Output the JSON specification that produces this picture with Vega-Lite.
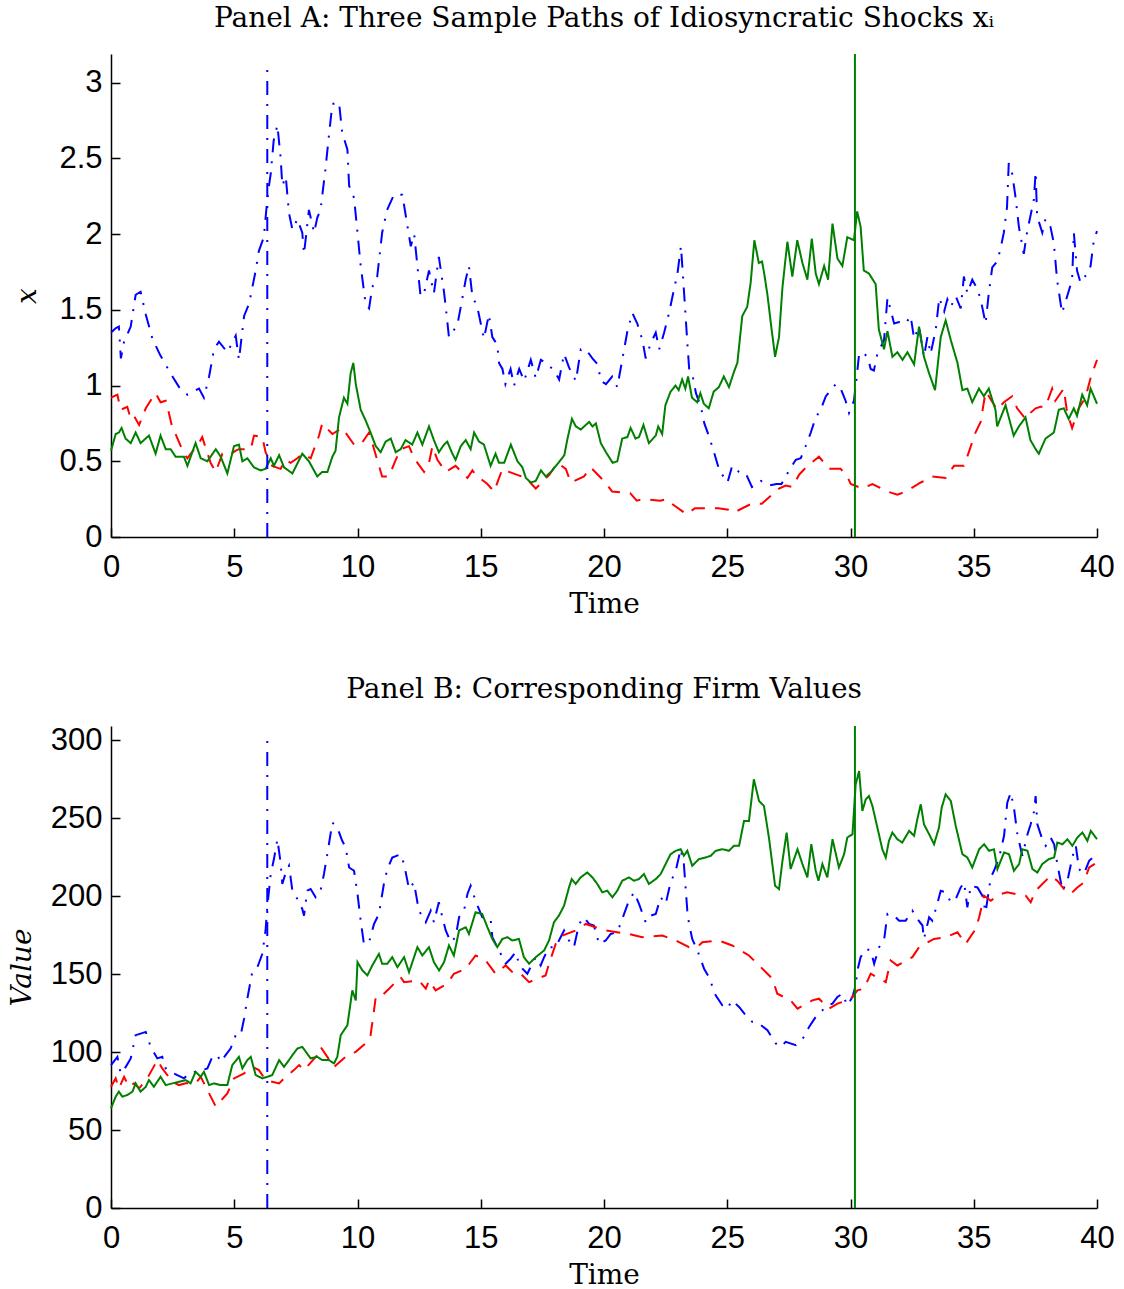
{
"$schema": "https://vega.github.io/schema/vega-lite/v6.json",
"background": "white",
"padding": {"left": 8, "top": 5, "right": 20, "bottom": 5},
"spacing": 58,
"config": {
 "view": {"stroke": null},
 "axis": {"grid": false, "labelFlush": false, "domainColor": "black", "domainWidth": 1.5, "tickColor": "black", "tickWidth": 1.5, "tickSize": -9, "labelColor": "black", "labelFont": "Liberation Sans", "labelFontSize": 31, "titleFont": "DejaVu Serif", "titleFontSize": 28, "titleFontWeight": "normal", "titleColor": "black"},
 "title": {"font": "DejaVu Serif", "fontSize": 28, "fontWeight": "normal", "color": "black", "offset": 20}
},
"datasets": {
"A": [
{"s":"b","t":0,"v":1.35},{"s":"b","t":0.2,"v":1.38},{"s":"b","t":0.32,"v":1.39},{"s":"b","t":0.4,"v":1.18},{"s":"b","t":0.53,"v":1.29},{"s":"b","t":0.8,"v":1.39},{"s":"b","t":1.0,"v":1.6},{"s":"b","t":1.2,"v":1.62},{"s":"b","t":1.41,"v":1.47},{"s":"b","t":1.68,"v":1.31},{"s":"b","t":2.0,"v":1.2},{"s":"b","t":2.42,"v":1.08},{"s":"b","t":2.76,"v":0.99},{"s":"b","t":3.1,"v":0.94},{"s":"b","t":3.57,"v":0.98},{"s":"b","t":3.77,"v":0.92},{"s":"b","t":3.98,"v":1.06},{"s":"b","t":4.18,"v":1.24},{"s":"b","t":4.38,"v":1.29},{"s":"b","t":4.72,"v":1.22},{"s":"b","t":5.06,"v":1.33},{"s":"b","t":5.19,"v":1.17},{"s":"b","t":5.4,"v":1.46},{"s":"b","t":5.6,"v":1.54},{"s":"b","t":5.87,"v":1.76},{"s":"b","t":6.0,"v":1.89},{"s":"b","t":6.2,"v":1.98},{"s":"b","t":6.34,"v":2.23},{"s":"b","t":6.41,"v":2.32},{"s":"b","t":6.48,"v":2.4},{"s":"b","t":6.6,"v":2.62},{"s":"b","t":6.75,"v":2.72},{"s":"b","t":6.88,"v":2.51},{"s":"b","t":6.95,"v":2.32},{"s":"b","t":7.09,"v":2.38},{"s":"b","t":7.22,"v":2.14},{"s":"b","t":7.36,"v":2.03},{"s":"b","t":7.56,"v":2.1},{"s":"b","t":7.76,"v":2.01},{"s":"b","t":7.83,"v":1.87},{"s":"b","t":8.03,"v":2.16},{"s":"b","t":8.24,"v":2.01},{"s":"b","t":8.37,"v":2.11},{"s":"b","t":8.5,"v":2.16},{"s":"b","t":8.7,"v":2.43},{"s":"b","t":8.84,"v":2.65},{"s":"b","t":8.98,"v":2.86},{"s":"b","t":9.25,"v":2.87},{"s":"b","t":9.38,"v":2.67},{"s":"b","t":9.59,"v":2.56},{"s":"b","t":9.66,"v":2.32},{"s":"b","t":9.86,"v":2.24},{"s":"b","t":10.0,"v":2.01},{"s":"b","t":10.13,"v":1.79},{"s":"b","t":10.33,"v":1.54},{"s":"b","t":10.47,"v":1.51},{"s":"b","t":10.6,"v":1.65},{"s":"b","t":10.8,"v":1.72},{"s":"b","t":11.0,"v":2.01},{"s":"b","t":11.2,"v":2.16},{"s":"b","t":11.48,"v":2.26},{"s":"b","t":11.82,"v":2.26},{"s":"b","t":12.0,"v":2.08},{"s":"b","t":12.16,"v":1.92},{"s":"b","t":12.3,"v":2.0},{"s":"b","t":12.43,"v":1.79},{"s":"b","t":12.56,"v":1.59},{"s":"b","t":12.7,"v":1.61},{"s":"b","t":12.9,"v":1.76},{"s":"b","t":13.1,"v":1.61},{"s":"b","t":13.3,"v":1.85},{"s":"b","t":13.5,"v":1.63},{"s":"b","t":13.58,"v":1.52},{"s":"b","t":13.71,"v":1.32},{"s":"b","t":14.05,"v":1.4},{"s":"b","t":14.19,"v":1.52},{"s":"b","t":14.39,"v":1.7},{"s":"b","t":14.52,"v":1.79},{"s":"b","t":14.66,"v":1.59},{"s":"b","t":14.86,"v":1.52},{"s":"b","t":15.0,"v":1.41},{"s":"b","t":15.13,"v":1.31},{"s":"b","t":15.33,"v":1.47},{"s":"b","t":15.47,"v":1.32},{"s":"b","t":15.67,"v":1.27},{"s":"b","t":15.74,"v":1.15},{"s":"b","t":15.88,"v":1.11},{"s":"b","t":16.0,"v":1.01},{"s":"b","t":16.21,"v":1.11},{"s":"b","t":16.35,"v":1.0},{"s":"b","t":16.56,"v":1.11},{"s":"b","t":16.76,"v":1.03},{"s":"b","t":17.03,"v":1.17},{"s":"b","t":17.23,"v":1.05},{"s":"b","t":17.44,"v":1.17},{"s":"b","t":17.71,"v":1.14},{"s":"b","t":17.98,"v":1.1},{"s":"b","t":18.18,"v":1.04},{"s":"b","t":18.38,"v":1.21},{"s":"b","t":18.58,"v":1.12},{"s":"b","t":18.86,"v":1.03},{"s":"b","t":19.06,"v":1.24},{"s":"b","t":19.26,"v":1.24},{"s":"b","t":19.53,"v":1.18},{"s":"b","t":19.74,"v":1.14},{"s":"b","t":19.88,"v":1.03},{"s":"b","t":20.08,"v":1.01},{"s":"b","t":20.33,"v":1.06},{"s":"b","t":20.54,"v":0.99},{"s":"b","t":20.74,"v":1.17},{"s":"b","t":20.95,"v":1.36},{"s":"b","t":21.15,"v":1.48},{"s":"b","t":21.35,"v":1.41},{"s":"b","t":21.56,"v":1.3},{"s":"b","t":21.69,"v":1.18},{"s":"b","t":21.9,"v":1.28},{"s":"b","t":22.1,"v":1.35},{"s":"b","t":22.24,"v":1.24},{"s":"b","t":22.44,"v":1.35},{"s":"b","t":22.64,"v":1.48},{"s":"b","t":22.78,"v":1.59},{"s":"b","t":22.98,"v":1.74},{"s":"b","t":23.12,"v":1.92},{"s":"b","t":23.19,"v":1.76},{"s":"b","t":23.25,"v":1.61},{"s":"b","t":23.39,"v":1.26},{"s":"b","t":23.46,"v":1.1},{"s":"b","t":23.6,"v":1.06},{"s":"b","t":23.73,"v":0.95},{"s":"b","t":23.93,"v":0.86},{"s":"b","t":24.07,"v":0.75},{"s":"b","t":24.27,"v":0.66},{"s":"b","t":24.48,"v":0.55},{"s":"b","t":24.68,"v":0.44},{"s":"b","t":25.01,"v":0.36},{"s":"b","t":25.2,"v":0.47},{"s":"b","t":25.48,"v":0.43},{"s":"b","t":25.75,"v":0.42},{"s":"b","t":26.0,"v":0.33},{"s":"b","t":26.36,"v":0.37},{"s":"b","t":26.7,"v":0.34},{"s":"b","t":27.0,"v":0.35},{"s":"b","t":27.2,"v":0.35},{"s":"b","t":27.51,"v":0.44},{"s":"b","t":27.78,"v":0.51},{"s":"b","t":27.98,"v":0.52},{"s":"b","t":28.18,"v":0.6},{"s":"b","t":28.39,"v":0.69},{"s":"b","t":28.59,"v":0.79},{"s":"b","t":28.79,"v":0.84},{"s":"b","t":29.0,"v":0.93},{"s":"b","t":29.2,"v":0.97},{"s":"b","t":29.4,"v":1.01},{"s":"b","t":29.6,"v":0.98},{"s":"b","t":29.8,"v":0.9},{"s":"b","t":29.94,"v":0.82},{"s":"b","t":30.14,"v":0.9},{"s":"b","t":30.24,"v":1.04},{"s":"b","t":30.35,"v":1.21},{"s":"b","t":30.49,"v":1.22},{"s":"b","t":30.69,"v":1.19},{"s":"b","t":30.82,"v":1.11},{"s":"b","t":30.95,"v":1.1},{"s":"b","t":31.09,"v":1.21},{"s":"b","t":31.36,"v":1.3},{"s":"b","t":31.5,"v":1.58},{"s":"b","t":31.63,"v":1.5},{"s":"b","t":31.77,"v":1.41},{"s":"b","t":31.97,"v":1.42},{"s":"b","t":32.24,"v":1.41},{"s":"b","t":32.44,"v":1.46},{"s":"b","t":32.58,"v":1.31},{"s":"b","t":32.78,"v":1.39},{"s":"b","t":32.98,"v":1.19},{"s":"b","t":33.12,"v":1.32},{"s":"b","t":33.25,"v":1.21},{"s":"b","t":33.46,"v":1.37},{"s":"b","t":33.6,"v":1.58},{"s":"b","t":33.8,"v":1.49},{"s":"b","t":33.93,"v":1.57},{"s":"b","t":34.07,"v":1.52},{"s":"b","t":34.27,"v":1.59},{"s":"b","t":34.47,"v":1.51},{"s":"b","t":34.6,"v":1.72},{"s":"b","t":34.74,"v":1.61},{"s":"b","t":34.94,"v":1.7},{"s":"b","t":35.14,"v":1.64},{"s":"b","t":35.28,"v":1.57},{"s":"b","t":35.48,"v":1.41},{"s":"b","t":35.61,"v":1.61},{"s":"b","t":35.75,"v":1.78},{"s":"b","t":35.95,"v":1.82},{"s":"b","t":36.08,"v":1.9},{"s":"b","t":36.22,"v":2.01},{"s":"b","t":36.35,"v":2.18},{"s":"b","t":36.42,"v":2.47},{"s":"b","t":36.56,"v":2.4},{"s":"b","t":36.69,"v":2.25},{"s":"b","t":36.83,"v":2.05},{"s":"b","t":37.03,"v":1.87},{"s":"b","t":37.17,"v":2.02},{"s":"b","t":37.3,"v":2.12},{"s":"b","t":37.44,"v":2.23},{"s":"b","t":37.51,"v":2.41},{"s":"b","t":37.57,"v":2.12},{"s":"b","t":37.78,"v":2.01},{"s":"b","t":37.91,"v":2.1},{"s":"b","t":38.11,"v":2.05},{"s":"b","t":38.25,"v":1.94},{"s":"b","t":38.38,"v":1.7},{"s":"b","t":38.58,"v":1.48},{"s":"b","t":38.79,"v":1.59},{"s":"b","t":38.99,"v":1.7},{"s":"b","t":39.06,"v":2.01},{"s":"b","t":39.19,"v":1.76},{"s":"b","t":39.33,"v":1.68},{"s":"b","t":39.6,"v":1.74},{"s":"b","t":39.74,"v":1.79},{"s":"b","t":39.87,"v":1.96},{"s":"b","t":40,"v":2.02},
{"s":"r","t":0,"v":0.92},{"s":"r","t":0.26,"v":0.94},{"s":"r","t":0.39,"v":0.84},{"s":"r","t":0.66,"v":0.86},{"s":"r","t":0.8,"v":0.78},{"s":"r","t":0.93,"v":0.8},{"s":"r","t":1.14,"v":0.74},{"s":"r","t":1.41,"v":0.85},{"s":"r","t":1.68,"v":0.92},{"s":"r","t":1.81,"v":0.95},{"s":"r","t":2.01,"v":0.89},{"s":"r","t":2.22,"v":0.9},{"s":"r","t":2.29,"v":0.86},{"s":"r","t":2.49,"v":0.72},{"s":"r","t":2.62,"v":0.68},{"s":"r","t":2.96,"v":0.55},{"s":"r","t":3.1,"v":0.52},{"s":"r","t":3.23,"v":0.55},{"s":"r","t":3.57,"v":0.62},{"s":"r","t":3.7,"v":0.66},{"s":"r","t":4.04,"v":0.49},{"s":"r","t":4.25,"v":0.43},{"s":"r","t":4.52,"v":0.55},{"s":"r","t":4.79,"v":0.54},{"s":"r","t":5.06,"v":0.57},{"s":"r","t":5.19,"v":0.58},{"s":"r","t":5.67,"v":0.58},{"s":"r","t":5.8,"v":0.67},{"s":"r","t":6.14,"v":0.66},{"s":"r","t":6.27,"v":0.56},{"s":"r","t":6.54,"v":0.47},{"s":"r","t":6.88,"v":0.45},{"s":"r","t":7.09,"v":0.51},{"s":"r","t":7.29,"v":0.49},{"s":"r","t":7.56,"v":0.52},{"s":"r","t":7.76,"v":0.55},{"s":"r","t":8.1,"v":0.52},{"s":"r","t":8.44,"v":0.67},{"s":"r","t":8.57,"v":0.75},{"s":"r","t":8.98,"v":0.68},{"s":"r","t":9.38,"v":0.72},{"s":"r","t":9.86,"v":0.61},{"s":"r","t":10.13,"v":0.61},{"s":"r","t":10.47,"v":0.69},{"s":"r","t":10.6,"v":0.62},{"s":"r","t":10.87,"v":0.47},{"s":"r","t":11.0,"v":0.4},{"s":"r","t":11.28,"v":0.4},{"s":"r","t":11.55,"v":0.51},{"s":"r","t":11.75,"v":0.58},{"s":"r","t":12.09,"v":0.6},{"s":"r","t":12.3,"v":0.52},{"s":"r","t":12.7,"v":0.43},{"s":"r","t":12.9,"v":0.49},{"s":"r","t":13.04,"v":0.6},{"s":"r","t":13.24,"v":0.51},{"s":"r","t":13.58,"v":0.43},{"s":"r","t":13.78,"v":0.45},{"s":"r","t":13.98,"v":0.47},{"s":"r","t":14.46,"v":0.39},{"s":"r","t":14.66,"v":0.44},{"s":"r","t":14.79,"v":0.41},{"s":"r","t":15.27,"v":0.35},{"s":"r","t":15.54,"v":0.3},{"s":"r","t":15.88,"v":0.45},{"s":"r","t":16.15,"v":0.43},{"s":"r","t":16.83,"v":0.39},{"s":"r","t":17.23,"v":0.32},{"s":"r","t":17.78,"v":0.41},{"s":"r","t":18.11,"v":0.49},{"s":"r","t":18.45,"v":0.45},{"s":"r","t":18.65,"v":0.36},{"s":"r","t":19.19,"v":0.4},{"s":"r","t":19.46,"v":0.46},{"s":"r","t":20.06,"v":0.36},{"s":"r","t":20.33,"v":0.3},{"s":"r","t":21.06,"v":0.29},{"s":"r","t":21.33,"v":0.24},{"s":"r","t":21.6,"v":0.25},{"s":"r","t":22.28,"v":0.24},{"s":"r","t":22.55,"v":0.25},{"s":"r","t":22.75,"v":0.22},{"s":"r","t":23.35,"v":0.15},{"s":"r","t":23.69,"v":0.19},{"s":"r","t":23.96,"v":0.19},{"s":"r","t":24.64,"v":0.19},{"s":"r","t":25.05,"v":0.18},{"s":"r","t":25.25,"v":0.16},{"s":"r","t":25.99,"v":0.22},{"s":"r","t":26.4,"v":0.22},{"s":"r","t":27.1,"v":0.32},{"s":"r","t":27.37,"v":0.34},{"s":"r","t":27.64,"v":0.33},{"s":"r","t":27.91,"v":0.41},{"s":"r","t":28.25,"v":0.47},{"s":"r","t":28.72,"v":0.53},{"s":"r","t":28.93,"v":0.49},{"s":"r","t":29.13,"v":0.45},{"s":"r","t":29.6,"v":0.45},{"s":"r","t":29.87,"v":0.4},{"s":"r","t":30.01,"v":0.35},{"s":"r","t":30.49,"v":0.32},{"s":"r","t":30.89,"v":0.35},{"s":"r","t":31.5,"v":0.3},{"s":"r","t":31.9,"v":0.28},{"s":"r","t":32.24,"v":0.3},{"s":"r","t":32.85,"v":0.36},{"s":"r","t":33.32,"v":0.4},{"s":"r","t":33.86,"v":0.39},{"s":"r","t":34.2,"v":0.47},{"s":"r","t":34.6,"v":0.47},{"s":"r","t":34.8,"v":0.56},{"s":"r","t":35.07,"v":0.69},{"s":"r","t":35.28,"v":0.76},{"s":"r","t":35.48,"v":0.96},{"s":"r","t":35.61,"v":0.93},{"s":"r","t":35.95,"v":0.84},{"s":"r","t":36.22,"v":0.89},{"s":"r","t":36.56,"v":0.93},{"s":"r","t":36.76,"v":0.85},{"s":"r","t":37.1,"v":0.78},{"s":"r","t":37.3,"v":0.82},{"s":"r","t":37.51,"v":0.85},{"s":"r","t":37.71,"v":0.86},{"s":"r","t":37.91,"v":0.86},{"s":"r","t":38.18,"v":0.98},{"s":"r","t":38.31,"v":0.9},{"s":"r","t":38.65,"v":0.98},{"s":"r","t":38.79,"v":0.82},{"s":"r","t":38.99,"v":0.72},{"s":"r","t":39.26,"v":0.85},{"s":"r","t":39.53,"v":0.92},{"s":"r","t":39.74,"v":1.05},{"s":"r","t":40,"v":1.17},
{"s":"g","t":0,"v":0.57},{"s":"g","t":0.19,"v":0.68},{"s":"g","t":0.32,"v":0.69},{"s":"g","t":0.43,"v":0.72},{"s":"g","t":0.59,"v":0.65},{"s":"g","t":0.8,"v":0.62},{"s":"g","t":1.0,"v":0.69},{"s":"g","t":1.2,"v":0.62},{"s":"g","t":1.54,"v":0.67},{"s":"g","t":1.81,"v":0.55},{"s":"g","t":2.01,"v":0.67},{"s":"g","t":2.22,"v":0.58},{"s":"g","t":2.42,"v":0.58},{"s":"g","t":2.62,"v":0.53},{"s":"g","t":2.96,"v":0.53},{"s":"g","t":3.1,"v":0.47},{"s":"g","t":3.43,"v":0.62},{"s":"g","t":3.64,"v":0.52},{"s":"g","t":3.91,"v":0.5},{"s":"g","t":4.25,"v":0.58},{"s":"g","t":4.45,"v":0.53},{"s":"g","t":4.72,"v":0.42},{"s":"g","t":4.99,"v":0.6},{"s":"g","t":5.19,"v":0.61},{"s":"g","t":5.33,"v":0.5},{"s":"g","t":5.53,"v":0.52},{"s":"g","t":5.8,"v":0.46},{"s":"g","t":6.07,"v":0.44},{"s":"g","t":6.27,"v":0.45},{"s":"g","t":6.48,"v":0.52},{"s":"g","t":6.61,"v":0.47},{"s":"g","t":6.82,"v":0.54},{"s":"g","t":7.02,"v":0.46},{"s":"g","t":7.36,"v":0.42},{"s":"g","t":7.76,"v":0.55},{"s":"g","t":8.03,"v":0.5},{"s":"g","t":8.37,"v":0.4},{"s":"g","t":8.57,"v":0.43},{"s":"g","t":8.78,"v":0.43},{"s":"g","t":8.98,"v":0.53},{"s":"g","t":9.11,"v":0.57},{"s":"g","t":9.25,"v":0.79},{"s":"g","t":9.45,"v":0.92},{"s":"g","t":9.59,"v":0.88},{"s":"g","t":9.72,"v":1.08},{"s":"g","t":9.83,"v":1.15},{"s":"g","t":9.93,"v":1.01},{"s":"g","t":10.13,"v":0.84},{"s":"g","t":10.33,"v":0.77},{"s":"g","t":10.53,"v":0.69},{"s":"g","t":10.74,"v":0.6},{"s":"g","t":10.94,"v":0.56},{"s":"g","t":11.14,"v":0.63},{"s":"g","t":11.35,"v":0.65},{"s":"g","t":11.55,"v":0.56},{"s":"g","t":11.75,"v":0.58},{"s":"g","t":11.95,"v":0.64},{"s":"g","t":12.22,"v":0.61},{"s":"g","t":12.43,"v":0.69},{"s":"g","t":12.63,"v":0.61},{"s":"g","t":12.9,"v":0.73},{"s":"g","t":13.1,"v":0.64},{"s":"g","t":13.3,"v":0.56},{"s":"g","t":13.51,"v":0.61},{"s":"g","t":13.64,"v":0.63},{"s":"g","t":13.85,"v":0.55},{"s":"g","t":13.98,"v":0.51},{"s":"g","t":14.19,"v":0.6},{"s":"g","t":14.39,"v":0.64},{"s":"g","t":14.59,"v":0.58},{"s":"g","t":14.73,"v":0.69},{"s":"g","t":14.93,"v":0.63},{"s":"g","t":15.13,"v":0.61},{"s":"g","t":15.4,"v":0.47},{"s":"g","t":15.6,"v":0.55},{"s":"g","t":15.74,"v":0.49},{"s":"g","t":15.95,"v":0.49},{"s":"g","t":16.22,"v":0.61},{"s":"g","t":16.49,"v":0.5},{"s":"g","t":16.69,"v":0.46},{"s":"g","t":16.83,"v":0.39},{"s":"g","t":17.03,"v":0.36},{"s":"g","t":17.23,"v":0.37},{"s":"g","t":17.44,"v":0.44},{"s":"g","t":17.64,"v":0.4},{"s":"g","t":17.85,"v":0.43},{"s":"g","t":18.05,"v":0.47},{"s":"g","t":18.25,"v":0.51},{"s":"g","t":18.39,"v":0.54},{"s":"g","t":18.52,"v":0.65},{"s":"g","t":18.7,"v":0.78},{"s":"g","t":18.86,"v":0.73},{"s":"g","t":19.06,"v":0.71},{"s":"g","t":19.26,"v":0.74},{"s":"g","t":19.4,"v":0.76},{"s":"g","t":19.53,"v":0.73},{"s":"g","t":19.67,"v":0.75},{"s":"g","t":19.87,"v":0.62},{"s":"g","t":20.08,"v":0.56},{"s":"g","t":20.35,"v":0.49},{"s":"g","t":20.54,"v":0.5},{"s":"g","t":20.74,"v":0.65},{"s":"g","t":20.95,"v":0.66},{"s":"g","t":21.08,"v":0.72},{"s":"g","t":21.28,"v":0.65},{"s":"g","t":21.42,"v":0.66},{"s":"g","t":21.6,"v":0.74},{"s":"g","t":21.82,"v":0.62},{"s":"g","t":22.1,"v":0.67},{"s":"g","t":22.2,"v":0.73},{"s":"g","t":22.36,"v":0.68},{"s":"g","t":22.49,"v":0.87},{"s":"g","t":22.7,"v":0.96},{"s":"g","t":22.9,"v":1.0},{"s":"g","t":23.03,"v":0.97},{"s":"g","t":23.17,"v":1.04},{"s":"g","t":23.3,"v":0.98},{"s":"g","t":23.41,"v":1.06},{"s":"g","t":23.57,"v":0.92},{"s":"g","t":23.78,"v":0.89},{"s":"g","t":23.91,"v":0.95},{"s":"g","t":24.05,"v":0.88},{"s":"g","t":24.25,"v":0.85},{"s":"g","t":24.45,"v":0.96},{"s":"g","t":24.66,"v":0.99},{"s":"g","t":24.86,"v":1.06},{"s":"g","t":25.07,"v":0.99},{"s":"g","t":25.27,"v":1.09},{"s":"g","t":25.41,"v":1.15},{"s":"g","t":25.61,"v":1.46},{"s":"g","t":25.81,"v":1.52},{"s":"g","t":25.95,"v":1.68},{"s":"g","t":26.1,"v":1.96},{"s":"g","t":26.28,"v":1.81},{"s":"g","t":26.41,"v":1.82},{"s":"g","t":26.5,"v":1.74},{"s":"g","t":26.63,"v":1.6},{"s":"g","t":26.77,"v":1.41},{"s":"g","t":26.94,"v":1.19},{"s":"g","t":27.1,"v":1.32},{"s":"g","t":27.24,"v":1.65},{"s":"g","t":27.44,"v":1.95},{"s":"g","t":27.64,"v":1.72},{"s":"g","t":27.84,"v":1.96},{"s":"g","t":28.05,"v":1.81},{"s":"g","t":28.25,"v":1.7},{"s":"g","t":28.43,"v":1.97},{"s":"g","t":28.59,"v":1.74},{"s":"g","t":28.72,"v":1.67},{"s":"g","t":28.93,"v":1.79},{"s":"g","t":29.09,"v":1.7},{"s":"g","t":29.27,"v":2.07},{"s":"g","t":29.47,"v":1.84},{"s":"g","t":29.67,"v":1.79},{"s":"g","t":29.87,"v":1.98},{"s":"g","t":30.14,"v":1.96},{"s":"g","t":30.27,"v":2.15},{"s":"g","t":30.41,"v":2.05},{"s":"g","t":30.54,"v":1.76},{"s":"g","t":30.75,"v":1.74},{"s":"g","t":31.02,"v":1.67},{"s":"g","t":31.15,"v":1.37},{"s":"g","t":31.36,"v":1.24},{"s":"g","t":31.5,"v":1.36},{"s":"g","t":31.7,"v":1.19},{"s":"g","t":31.9,"v":1.22},{"s":"g","t":32.11,"v":1.17},{"s":"g","t":32.31,"v":1.22},{"s":"g","t":32.58,"v":1.14},{"s":"g","t":32.78,"v":1.39},{"s":"g","t":32.98,"v":1.19},{"s":"g","t":33.19,"v":1.08},{"s":"g","t":33.43,"v":0.97},{"s":"g","t":33.66,"v":1.32},{"s":"g","t":33.86,"v":1.43},{"s":"g","t":34.07,"v":1.3},{"s":"g","t":34.34,"v":1.15},{"s":"g","t":34.54,"v":0.97},{"s":"g","t":34.74,"v":0.98},{"s":"g","t":34.94,"v":0.89},{"s":"g","t":35.21,"v":0.98},{"s":"g","t":35.41,"v":0.93},{"s":"g","t":35.61,"v":0.98},{"s":"g","t":35.88,"v":0.84},{"s":"g","t":35.95,"v":0.73},{"s":"g","t":36.29,"v":0.87},{"s":"g","t":36.62,"v":0.67},{"s":"g","t":36.83,"v":0.73},{"s":"g","t":37.1,"v":0.79},{"s":"g","t":37.3,"v":0.64},{"s":"g","t":37.51,"v":0.58},{"s":"g","t":37.64,"v":0.55},{"s":"g","t":37.91,"v":0.65},{"s":"g","t":38.25,"v":0.69},{"s":"g","t":38.45,"v":0.84},{"s":"g","t":38.65,"v":0.85},{"s":"g","t":38.85,"v":0.78},{"s":"g","t":39.06,"v":0.85},{"s":"g","t":39.19,"v":0.8},{"s":"g","t":39.4,"v":0.94},{"s":"g","t":39.6,"v":0.87},{"s":"g","t":39.74,"v":0.98},{"s":"g","t":40,"v":0.88}
],
"B": [
{"s":"b","t":0,"v":91.6},{"s":"b","t":0.26,"v":96.9},{"s":"b","t":0.39,"v":86.3},{"s":"b","t":0.6,"v":90.5},{"s":"b","t":0.8,"v":95.9},{"s":"b","t":1.0,"v":110.8},{"s":"b","t":1.2,"v":111.8},{"s":"b","t":1.41,"v":112.9},{"s":"b","t":1.61,"v":103.3},{"s":"b","t":1.88,"v":95.9},{"s":"b","t":2.08,"v":96.9},{"s":"b","t":2.22,"v":89.5},{"s":"b","t":2.42,"v":87.3},{"s":"b","t":2.69,"v":85.2},{"s":"b","t":2.96,"v":83.1},{"s":"b","t":3.16,"v":86.3},{"s":"b","t":3.43,"v":87.3},{"s":"b","t":3.7,"v":88.4},{"s":"b","t":3.91,"v":89.5},{"s":"b","t":4.11,"v":96.9},{"s":"b","t":4.31,"v":98.0},{"s":"b","t":4.45,"v":93.7},{"s":"b","t":4.65,"v":98.0},{"s":"b","t":4.85,"v":102.2},{"s":"b","t":5.06,"v":110.8},{"s":"b","t":5.26,"v":110.8},{"s":"b","t":5.4,"v":121.4},{"s":"b","t":5.53,"v":134.2},{"s":"b","t":5.73,"v":151.2},{"s":"b","t":5.94,"v":154.4},{"s":"b","t":6.14,"v":163.0},{"s":"b","t":6.27,"v":177.9},{"s":"b","t":6.34,"v":192.8},{"s":"b","t":6.48,"v":214.1},{"s":"b","t":6.61,"v":223.7},{"s":"b","t":6.75,"v":236.4},{"s":"b","t":6.88,"v":221.5},{"s":"b","t":6.95,"v":207.7},{"s":"b","t":7.09,"v":215.1},{"s":"b","t":7.22,"v":219.4},{"s":"b","t":7.36,"v":203.4},{"s":"b","t":7.56,"v":198.1},{"s":"b","t":7.76,"v":191.7},{"s":"b","t":7.83,"v":187.4},{"s":"b","t":7.96,"v":203.4},{"s":"b","t":8.1,"v":204.5},{"s":"b","t":8.3,"v":199.2},{"s":"b","t":8.5,"v":203.4},{"s":"b","t":8.64,"v":214.1},{"s":"b","t":8.84,"v":233.2},{"s":"b","t":8.98,"v":247.1},{"s":"b","t":9.18,"v":243.9},{"s":"b","t":9.38,"v":235.4},{"s":"b","t":9.52,"v":231.1},{"s":"b","t":9.66,"v":218.3},{"s":"b","t":9.86,"v":216.2},{"s":"b","t":10.0,"v":201.3},{"s":"b","t":10.13,"v":184.2},{"s":"b","t":10.26,"v":169.3},{"s":"b","t":10.47,"v":170.4},{"s":"b","t":10.67,"v":182.1},{"s":"b","t":10.87,"v":188.5},{"s":"b","t":11.07,"v":207.7},{"s":"b","t":11.21,"v":217.3},{"s":"b","t":11.41,"v":224.7},{"s":"b","t":11.75,"v":226.8},{"s":"b","t":11.89,"v":220.5},{"s":"b","t":12.09,"v":204.5},{"s":"b","t":12.29,"v":208.7},{"s":"b","t":12.49,"v":190.6},{"s":"b","t":12.77,"v":183.2},{"s":"b","t":12.97,"v":190.6},{"s":"b","t":13.1,"v":183.2},{"s":"b","t":13.3,"v":196.0},{"s":"b","t":13.44,"v":186.4},{"s":"b","t":13.58,"v":177.9},{"s":"b","t":13.78,"v":170.4},{"s":"b","t":13.98,"v":173.6},{"s":"b","t":14.12,"v":186.4},{"s":"b","t":14.32,"v":190.6},{"s":"b","t":14.46,"v":201.3},{"s":"b","t":14.59,"v":206.6},{"s":"b","t":14.79,"v":197.0},{"s":"b","t":15.06,"v":186.4},{"s":"b","t":15.4,"v":185.3},{"s":"b","t":15.47,"v":173.6},{"s":"b","t":15.67,"v":167.2},{"s":"b","t":15.88,"v":160.8},{"s":"b","t":16.01,"v":156.6},{"s":"b","t":16.21,"v":159.8},{"s":"b","t":16.42,"v":164.0},{"s":"b","t":16.55,"v":156.6},{"s":"b","t":16.69,"v":153.4},{"s":"b","t":16.89,"v":150.2},{"s":"b","t":17.09,"v":156.6},{"s":"b","t":17.23,"v":160.8},{"s":"b","t":17.43,"v":155.5},{"s":"b","t":17.57,"v":160.8},{"s":"b","t":17.78,"v":167.2},{"s":"b","t":18.04,"v":167.2},{"s":"b","t":18.24,"v":173.6},{"s":"b","t":18.38,"v":177.9},{"s":"b","t":18.58,"v":171.5},{"s":"b","t":18.78,"v":167.2},{"s":"b","t":18.99,"v":182.1},{"s":"b","t":19.19,"v":186.4},{"s":"b","t":19.39,"v":182.1},{"s":"b","t":19.59,"v":181.1},{"s":"b","t":19.8,"v":169.3},{"s":"b","t":20.07,"v":171.5},{"s":"b","t":20.27,"v":175.7},{"s":"b","t":20.54,"v":176.8},{"s":"b","t":20.74,"v":185.3},{"s":"b","t":21.01,"v":197.0},{"s":"b","t":21.22,"v":202.4},{"s":"b","t":21.42,"v":194.9},{"s":"b","t":21.69,"v":183.2},{"s":"b","t":21.89,"v":187.4},{"s":"b","t":22.1,"v":188.5},{"s":"b","t":22.3,"v":199.2},{"s":"b","t":22.5,"v":194.9},{"s":"b","t":22.7,"v":208.7},{"s":"b","t":22.91,"v":216.2},{"s":"b","t":23.11,"v":230.0},{"s":"b","t":23.24,"v":220.5},{"s":"b","t":23.38,"v":190.6},{"s":"b","t":23.45,"v":182.1},{"s":"b","t":23.58,"v":172.5},{"s":"b","t":23.79,"v":165.1},{"s":"b","t":24.06,"v":153.4},{"s":"b","t":24.26,"v":148.0},{"s":"b","t":24.53,"v":136.3},{"s":"b","t":24.8,"v":129.9},{"s":"b","t":25.0,"v":127.8},{"s":"b","t":25.2,"v":133.1},{"s":"b","t":25.48,"v":128.9},{"s":"b","t":25.75,"v":123.5},{"s":"b","t":26.02,"v":119.3},{"s":"b","t":26.29,"v":118.2},{"s":"b","t":26.63,"v":114.0},{"s":"b","t":26.97,"v":105.4},{"s":"b","t":27.17,"v":103.3},{"s":"b","t":27.37,"v":106.5},{"s":"b","t":27.78,"v":104.4},{"s":"b","t":28.12,"v":109.7},{"s":"b","t":28.32,"v":116.1},{"s":"b","t":28.59,"v":122.5},{"s":"b","t":28.86,"v":126.7},{"s":"b","t":29.06,"v":129.9},{"s":"b","t":29.27,"v":131.0},{"s":"b","t":29.47,"v":135.3},{"s":"b","t":29.67,"v":137.4},{"s":"b","t":29.87,"v":129.9},{"s":"b","t":30.08,"v":135.3},{"s":"b","t":30.21,"v":142.7},{"s":"b","t":30.28,"v":152.3},{"s":"b","t":30.41,"v":160.8},{"s":"b","t":30.62,"v":166.1},{"s":"b","t":30.82,"v":165.1},{"s":"b","t":30.96,"v":156.6},{"s":"b","t":31.16,"v":167.2},{"s":"b","t":31.36,"v":171.5},{"s":"b","t":31.5,"v":188.5},{"s":"b","t":31.77,"v":187.4},{"s":"b","t":31.97,"v":184.2},{"s":"b","t":32.24,"v":184.2},{"s":"b","t":32.51,"v":190.6},{"s":"b","t":32.71,"v":185.3},{"s":"b","t":32.92,"v":181.1},{"s":"b","t":32.98,"v":172.5},{"s":"b","t":33.19,"v":186.4},{"s":"b","t":33.32,"v":184.2},{"s":"b","t":33.52,"v":194.9},{"s":"b","t":33.66,"v":203.4},{"s":"b","t":33.86,"v":202.4},{"s":"b","t":34.07,"v":196.0},{"s":"b","t":34.27,"v":198.1},{"s":"b","t":34.47,"v":205.5},{"s":"b","t":34.61,"v":208.7},{"s":"b","t":34.74,"v":192.8},{"s":"b","t":34.88,"v":206.6},{"s":"b","t":35.15,"v":205.5},{"s":"b","t":35.35,"v":200.2},{"s":"b","t":35.48,"v":189.6},{"s":"b","t":35.69,"v":211.9},{"s":"b","t":35.82,"v":216.2},{"s":"b","t":36.03,"v":224.7},{"s":"b","t":36.23,"v":238.6},{"s":"b","t":36.36,"v":259.9},{"s":"b","t":36.5,"v":266.3},{"s":"b","t":36.63,"v":256.7},{"s":"b","t":36.77,"v":239.6},{"s":"b","t":36.97,"v":225.8},{"s":"b","t":37.18,"v":239.6},{"s":"b","t":37.31,"v":246.0},{"s":"b","t":37.45,"v":254.5},{"s":"b","t":37.51,"v":264.1},{"s":"b","t":37.58,"v":246.0},{"s":"b","t":37.78,"v":236.4},{"s":"b","t":37.92,"v":232.2},{"s":"b","t":38.12,"v":237.5},{"s":"b","t":38.26,"v":233.2},{"s":"b","t":38.39,"v":220.5},{"s":"b","t":38.6,"v":203.4},{"s":"b","t":38.8,"v":209.8},{"s":"b","t":39.0,"v":224.7},{"s":"b","t":39.14,"v":232.2},{"s":"b","t":39.27,"v":217.3},{"s":"b","t":39.47,"v":214.1},{"s":"b","t":39.68,"v":222.6},{"s":"b","t":40,"v":226.8},
{"s":"r","t":0,"v":77.7},{"s":"r","t":0.19,"v":83.1},{"s":"r","t":0.32,"v":76.7},{"s":"r","t":0.53,"v":84.1},{"s":"r","t":0.73,"v":77.7},{"s":"r","t":0.93,"v":79.9},{"s":"r","t":1.14,"v":76.7},{"s":"r","t":1.47,"v":83.1},{"s":"r","t":1.88,"v":94.8},{"s":"r","t":2.08,"v":89.5},{"s":"r","t":2.49,"v":80.9},{"s":"r","t":2.76,"v":78.8},{"s":"r","t":3.03,"v":79.9},{"s":"r","t":3.43,"v":79.9},{"s":"r","t":3.64,"v":84.1},{"s":"r","t":3.98,"v":73.5},{"s":"r","t":4.25,"v":65.0},{"s":"r","t":4.72,"v":73.5},{"s":"r","t":4.99,"v":83.1},{"s":"r","t":5.4,"v":86.3},{"s":"r","t":5.73,"v":90.5},{"s":"r","t":6.0,"v":88.4},{"s":"r","t":6.27,"v":82.0},{"s":"r","t":6.82,"v":79.9},{"s":"r","t":7.09,"v":84.1},{"s":"r","t":7.42,"v":88.4},{"s":"r","t":7.63,"v":91.6},{"s":"r","t":7.83,"v":88.4},{"s":"r","t":8.37,"v":98.0},{"s":"r","t":8.5,"v":103.3},{"s":"r","t":9.05,"v":90.5},{"s":"r","t":9.59,"v":98.0},{"s":"r","t":9.93,"v":100.1},{"s":"r","t":10.4,"v":106.5},{"s":"r","t":10.53,"v":110.8},{"s":"r","t":10.67,"v":126.7},{"s":"r","t":10.74,"v":135.3},{"s":"r","t":11.0,"v":136.3},{"s":"r","t":11.28,"v":140.6},{"s":"r","t":11.75,"v":148.0},{"s":"r","t":11.89,"v":144.8},{"s":"r","t":12.49,"v":145.9},{"s":"r","t":12.77,"v":140.6},{"s":"r","t":12.9,"v":145.9},{"s":"r","t":13.17,"v":139.5},{"s":"r","t":13.64,"v":143.8},{"s":"r","t":13.91,"v":150.2},{"s":"r","t":14.39,"v":153.4},{"s":"r","t":14.79,"v":161.9},{"s":"r","t":15.2,"v":158.7},{"s":"r","t":15.6,"v":150.2},{"s":"r","t":16.01,"v":155.5},{"s":"r","t":16.35,"v":150.2},{"s":"r","t":16.62,"v":150.2},{"s":"r","t":16.96,"v":144.8},{"s":"r","t":17.63,"v":149.1},{"s":"r","t":17.77,"v":156.6},{"s":"r","t":18.04,"v":169.3},{"s":"r","t":18.31,"v":174.7},{"s":"r","t":18.85,"v":177.9},{"s":"r","t":19.26,"v":182.1},{"s":"r","t":19.66,"v":180.0},{"s":"r","t":20.07,"v":177.9},{"s":"r","t":21.01,"v":175.7},{"s":"r","t":21.55,"v":173.6},{"s":"r","t":22.37,"v":174.7},{"s":"r","t":22.91,"v":171.5},{"s":"r","t":23.45,"v":167.2},{"s":"r","t":23.85,"v":168.3},{"s":"r","t":23.99,"v":170.4},{"s":"r","t":24.66,"v":171.5},{"s":"r","t":25.2,"v":168.3},{"s":"r","t":25.88,"v":161.9},{"s":"r","t":26.29,"v":155.5},{"s":"r","t":26.83,"v":147.0},{"s":"r","t":27.03,"v":137.4},{"s":"r","t":27.57,"v":133.1},{"s":"r","t":27.85,"v":127.8},{"s":"r","t":28.45,"v":133.1},{"s":"r","t":28.72,"v":134.2},{"s":"r","t":29.13,"v":127.8},{"s":"r","t":29.47,"v":131.0},{"s":"r","t":29.87,"v":133.1},{"s":"r","t":30.08,"v":135.3},{"s":"r","t":30.28,"v":139.5},{"s":"r","t":30.55,"v":140.6},{"s":"r","t":30.82,"v":150.2},{"s":"r","t":31.43,"v":144.8},{"s":"r","t":31.63,"v":158.7},{"s":"r","t":31.9,"v":155.5},{"s":"r","t":32.51,"v":160.8},{"s":"r","t":32.78,"v":167.2},{"s":"r","t":33.39,"v":172.5},{"s":"r","t":33.86,"v":173.6},{"s":"r","t":34.34,"v":176.8},{"s":"r","t":34.67,"v":169.3},{"s":"r","t":35.08,"v":178.9},{"s":"r","t":35.22,"v":186.4},{"s":"r","t":35.42,"v":200.2},{"s":"r","t":35.69,"v":197.0},{"s":"r","t":36.09,"v":201.3},{"s":"r","t":36.36,"v":202.4},{"s":"r","t":36.7,"v":201.3},{"s":"r","t":37.11,"v":200.2},{"s":"r","t":37.31,"v":196.0},{"s":"r","t":37.51,"v":203.4},{"s":"r","t":38.12,"v":213.0},{"s":"r","t":38.39,"v":209.8},{"s":"r","t":38.66,"v":204.5},{"s":"r","t":38.93,"v":201.3},{"s":"r","t":39.2,"v":205.5},{"s":"r","t":39.47,"v":208.7},{"s":"r","t":39.68,"v":218.3},{"s":"r","t":40,"v":221.5},
{"s":"g","t":0,"v":63.9},{"s":"g","t":0.19,"v":71.4},{"s":"g","t":0.32,"v":74.6},{"s":"g","t":0.46,"v":71.4},{"s":"g","t":0.66,"v":72.4},{"s":"g","t":0.87,"v":74.6},{"s":"g","t":1.0,"v":79.9},{"s":"g","t":1.2,"v":74.6},{"s":"g","t":1.41,"v":77.7},{"s":"g","t":1.54,"v":82.0},{"s":"g","t":1.74,"v":77.7},{"s":"g","t":2.01,"v":84.1},{"s":"g","t":2.22,"v":78.8},{"s":"g","t":2.49,"v":79.9},{"s":"g","t":2.76,"v":80.9},{"s":"g","t":3.03,"v":82.0},{"s":"g","t":3.23,"v":79.9},{"s":"g","t":3.43,"v":87.3},{"s":"g","t":3.64,"v":84.1},{"s":"g","t":3.77,"v":87.3},{"s":"g","t":3.98,"v":78.8},{"s":"g","t":4.18,"v":79.9},{"s":"g","t":4.45,"v":78.8},{"s":"g","t":4.72,"v":78.8},{"s":"g","t":4.92,"v":91.6},{"s":"g","t":5.19,"v":96.9},{"s":"g","t":5.33,"v":89.5},{"s":"g","t":5.53,"v":94.8},{"s":"g","t":5.67,"v":96.9},{"s":"g","t":5.87,"v":85.2},{"s":"g","t":6.14,"v":83.1},{"s":"g","t":6.34,"v":84.1},{"s":"g","t":6.54,"v":85.2},{"s":"g","t":6.82,"v":94.8},{"s":"g","t":7.02,"v":90.5},{"s":"g","t":7.22,"v":94.8},{"s":"g","t":7.36,"v":98.0},{"s":"g","t":7.56,"v":102.2},{"s":"g","t":7.76,"v":103.3},{"s":"g","t":8.1,"v":95.9},{"s":"g","t":8.37,"v":96.9},{"s":"g","t":8.57,"v":94.8},{"s":"g","t":8.84,"v":94.8},{"s":"g","t":9.05,"v":92.7},{"s":"g","t":9.18,"v":96.9},{"s":"g","t":9.32,"v":110.8},{"s":"g","t":9.59,"v":117.2},{"s":"g","t":9.79,"v":139.5},{"s":"g","t":9.93,"v":133.1},{"s":"g","t":10.0,"v":157.6},{"s":"g","t":10.2,"v":152.3},{"s":"g","t":10.4,"v":149.1},{"s":"g","t":10.6,"v":155.5},{"s":"g","t":10.87,"v":162.9},{"s":"g","t":11.0,"v":156.6},{"s":"g","t":11.21,"v":156.6},{"s":"g","t":11.41,"v":160.8},{"s":"g","t":11.62,"v":154.4},{"s":"g","t":11.89,"v":160.8},{"s":"g","t":12.09,"v":151.2},{"s":"g","t":12.43,"v":167.2},{"s":"g","t":12.63,"v":161.9},{"s":"g","t":12.9,"v":167.2},{"s":"g","t":13.1,"v":157.6},{"s":"g","t":13.31,"v":152.3},{"s":"g","t":13.51,"v":157.6},{"s":"g","t":13.71,"v":168.3},{"s":"g","t":13.91,"v":161.9},{"s":"g","t":14.12,"v":177.9},{"s":"g","t":14.39,"v":180.0},{"s":"g","t":14.52,"v":175.7},{"s":"g","t":14.79,"v":189.6},{"s":"g","t":15.06,"v":188.5},{"s":"g","t":15.27,"v":180.0},{"s":"g","t":15.47,"v":172.5},{"s":"g","t":15.67,"v":167.2},{"s":"g","t":15.88,"v":172.5},{"s":"g","t":16.08,"v":173.6},{"s":"g","t":16.28,"v":171.5},{"s":"g","t":16.55,"v":172.5},{"s":"g","t":16.75,"v":160.8},{"s":"g","t":16.96,"v":156.6},{"s":"g","t":17.23,"v":160.8},{"s":"g","t":17.57,"v":165.1},{"s":"g","t":17.77,"v":171.5},{"s":"g","t":17.97,"v":183.2},{"s":"g","t":18.17,"v":187.4},{"s":"g","t":18.38,"v":193.8},{"s":"g","t":18.58,"v":205.5},{"s":"g","t":18.69,"v":210.9},{"s":"g","t":18.85,"v":207.7},{"s":"g","t":19.05,"v":211.9},{"s":"g","t":19.32,"v":215.1},{"s":"g","t":19.53,"v":211.9},{"s":"g","t":19.73,"v":207.7},{"s":"g","t":19.93,"v":202.4},{"s":"g","t":20.13,"v":203.4},{"s":"g","t":20.34,"v":199.2},{"s":"g","t":20.54,"v":203.4},{"s":"g","t":20.74,"v":209.8},{"s":"g","t":21.01,"v":211.9},{"s":"g","t":21.22,"v":209.8},{"s":"g","t":21.42,"v":210.9},{"s":"g","t":21.62,"v":214.1},{"s":"g","t":21.82,"v":207.7},{"s":"g","t":22.1,"v":210.9},{"s":"g","t":22.3,"v":214.1},{"s":"g","t":22.5,"v":220.5},{"s":"g","t":22.7,"v":226.8},{"s":"g","t":22.91,"v":229.0},{"s":"g","t":23.11,"v":230.0},{"s":"g","t":23.24,"v":225.8},{"s":"g","t":23.38,"v":229.0},{"s":"g","t":23.58,"v":219.4},{"s":"g","t":23.85,"v":223.7},{"s":"g","t":24.12,"v":224.7},{"s":"g","t":24.33,"v":225.8},{"s":"g","t":24.53,"v":229.0},{"s":"g","t":24.8,"v":230.0},{"s":"g","t":25.07,"v":229.0},{"s":"g","t":25.27,"v":232.2},{"s":"g","t":25.48,"v":232.2},{"s":"g","t":25.68,"v":248.1},{"s":"g","t":25.88,"v":248.1},{"s":"g","t":26.08,"v":274.8},{"s":"g","t":26.29,"v":260.9},{"s":"g","t":26.49,"v":257.7},{"s":"g","t":26.69,"v":237.5},{"s":"g","t":26.76,"v":229.0},{"s":"g","t":26.94,"v":206.6},{"s":"g","t":27.1,"v":204.5},{"s":"g","t":27.24,"v":222.6},{"s":"g","t":27.41,"v":240.7},{"s":"g","t":27.57,"v":217.3},{"s":"g","t":27.85,"v":230.0},{"s":"g","t":28.05,"v":220.5},{"s":"g","t":28.25,"v":211.9},{"s":"g","t":28.41,"v":233.2},{"s":"g","t":28.59,"v":216.2},{"s":"g","t":28.7,"v":209.8},{"s":"g","t":28.86,"v":220.5},{"s":"g","t":29.06,"v":211.9},{"s":"g","t":29.27,"v":236.4},{"s":"g","t":29.53,"v":218.3},{"s":"g","t":29.74,"v":226.8},{"s":"g","t":29.87,"v":237.5},{"s":"g","t":30.08,"v":239.6},{"s":"g","t":30.21,"v":271.6},{"s":"g","t":30.35,"v":280.1},{"s":"g","t":30.48,"v":254.5},{"s":"g","t":30.62,"v":262.0},{"s":"g","t":30.75,"v":264.1},{"s":"g","t":30.89,"v":257.7},{"s":"g","t":31.09,"v":243.9},{"s":"g","t":31.29,"v":230.0},{"s":"g","t":31.43,"v":224.7},{"s":"g","t":31.56,"v":235.4},{"s":"g","t":31.7,"v":240.7},{"s":"g","t":31.9,"v":236.4},{"s":"g","t":32.1,"v":234.3},{"s":"g","t":32.38,"v":241.8},{"s":"g","t":32.58,"v":238.6},{"s":"g","t":32.71,"v":249.2},{"s":"g","t":32.85,"v":258.8},{"s":"g","t":32.98,"v":246.0},{"s":"g","t":33.19,"v":239.6},{"s":"g","t":33.39,"v":233.2},{"s":"g","t":33.59,"v":243.9},{"s":"g","t":33.7,"v":256.7},{"s":"g","t":33.86,"v":265.2},{"s":"g","t":34.07,"v":260.9},{"s":"g","t":34.27,"v":244.9},{"s":"g","t":34.54,"v":226.8},{"s":"g","t":34.74,"v":224.7},{"s":"g","t":34.94,"v":218.3},{"s":"g","t":35.22,"v":230.0},{"s":"g","t":35.42,"v":233.2},{"s":"g","t":35.62,"v":229.0},{"s":"g","t":35.82,"v":230.0},{"s":"g","t":35.96,"v":217.3},{"s":"g","t":36.23,"v":227.9},{"s":"g","t":36.43,"v":226.8},{"s":"g","t":36.63,"v":216.2},{"s":"g","t":36.84,"v":220.5},{"s":"g","t":36.97,"v":230.0},{"s":"g","t":37.18,"v":229.0},{"s":"g","t":37.38,"v":217.3},{"s":"g","t":37.58,"v":215.1},{"s":"g","t":37.78,"v":220.5},{"s":"g","t":38.05,"v":223.7},{"s":"g","t":38.26,"v":224.7},{"s":"g","t":38.39,"v":234.3},{"s":"g","t":38.6,"v":233.2},{"s":"g","t":38.8,"v":236.4},{"s":"g","t":39.0,"v":232.2},{"s":"g","t":39.2,"v":237.5},{"s":"g","t":39.41,"v":240.7},{"s":"g","t":39.61,"v":235.4},{"s":"g","t":39.75,"v":241.8},{"s":"g","t":40,"v":236.4}
],
"VA": [{"s":"b","t":6.34,"lo":0,"hi":3.14},{"s":"g","t":30.18,"lo":0,"hi":3.19}],
"VB": [{"s":"b","t":6.34,"lo":0,"hi":304},{"s":"g","t":30.18,"lo":0,"hi":309}]
},
"vconcat": [
{
 "width": 986, "height": 483,
 "title": {"text": "Panel A: Three Sample Paths of Idiosyncratic Shocks xᵢ"},
 "layer": [
  {"data": {"name": "A"}, "mark": {"type": "line", "strokeWidth": 2},
   "encoding": {
    "x": {"field": "t", "type": "quantitative", "scale": {"domain": [0, 40], "nice": false}, "axis": {"values": [0,5,10,15,20,25,30,35,40], "title": "Time", "labelPadding": 24, "titlePadding": 8}},
    "y": {"field": "v", "type": "quantitative", "scale": {"domain": [0, 3.19], "nice": false}, "axis": {"values": [0,0.5,1,1.5,2,2.5,3], "format": "~g", "title": "x", "titleFontStyle": "italic", "labelPadding": 18, "titlePadding": 17}},
    "color": {"field": "s", "type": "nominal", "scale": {"domain": ["b","r","g"], "range": ["#0000ff","#ff0000","#008000"]}, "legend": null},
    "strokeDash": {"field": "s", "type": "nominal", "scale": {"domain": ["b","r","g"], "range": [[14,9,2,9],[14,10],[1,0]]}, "legend": null}
   }},
  {"data": {"name": "VA"}, "mark": {"type": "rule", "strokeWidth": 2},
   "encoding": {
    "x": {"field": "t", "type": "quantitative"},
    "y": {"field": "lo", "type": "quantitative"},
    "y2": {"field": "hi"},
    "color": {"field": "s", "type": "nominal", "legend": null},
    "strokeDash": {"field": "s", "type": "nominal", "legend": null}
   }}
 ]
},
{
 "width": 986, "height": 482,
 "title": {"text": "Panel B: Corresponding Firm Values"},
 "layer": [
  {"data": {"name": "B"}, "mark": {"type": "line", "strokeWidth": 2},
   "encoding": {
    "x": {"field": "t", "type": "quantitative", "scale": {"domain": [0, 40], "nice": false}, "axis": {"values": [0,5,10,15,20,25,30,35,40], "title": "Time", "labelPadding": 24, "titlePadding": 8}},
    "y": {"field": "v", "type": "quantitative", "scale": {"domain": [0, 309], "nice": false}, "axis": {"values": [0,50,100,150,200,250,300], "title": "Value", "titleFontStyle": "italic", "labelPadding": 18, "titlePadding": 14}},
    "color": {"field": "s", "type": "nominal", "scale": {"domain": ["b","r","g"], "range": ["#0000ff","#ff0000","#008000"]}, "legend": null},
    "strokeDash": {"field": "s", "type": "nominal", "scale": {"domain": ["b","r","g"], "range": [[14,9,2,9],[14,10],[1,0]]}, "legend": null}
   }},
  {"data": {"name": "VB"}, "mark": {"type": "rule", "strokeWidth": 2},
   "encoding": {
    "x": {"field": "t", "type": "quantitative"},
    "y": {"field": "lo", "type": "quantitative"},
    "y2": {"field": "hi"},
    "color": {"field": "s", "type": "nominal", "legend": null},
    "strokeDash": {"field": "s", "type": "nominal", "legend": null}
   }}
 ]
}
]
}
